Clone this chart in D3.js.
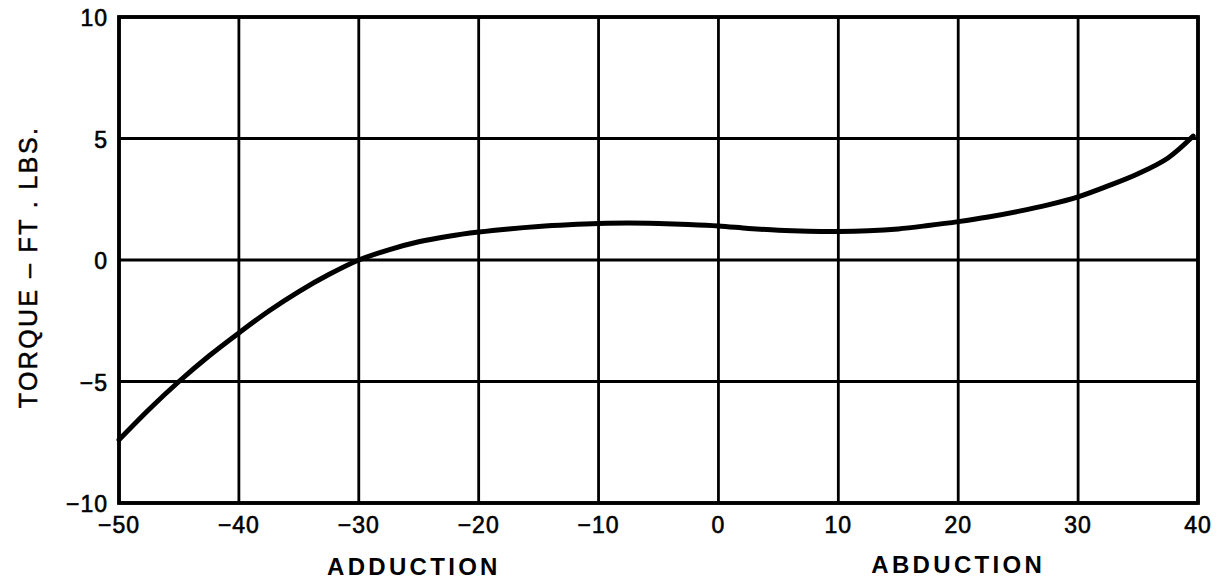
<!DOCTYPE html>
<html><head><meta charset="utf-8">
<script src="https://cdn.jsdelivr.net/npm/d3@7"></script>
<style>body{margin:0;background:#fff}svg{display:block}text{font-family:"Liberation Sans",Arial,sans-serif;fill:#000}</style>
</head><body>
<svg id="c" width="1223" height="584"></svg>
<script>
const xTicks = [-50,-40,-30,-20,-10,0,10,20,30,40];
const yTicks = [-10,-5,0,5,10];
const angle = [-50,-47.5,-45,-42.5,-40,-37.5,-35,-32.5,-30,-27.5,-25,-22.5,-20,-17.5,-15,-12.5,-10,-7.5,-5,-2.5,0,2.5,5,7.5,10,12.5,15,17.5,20,22.5,25,27.5,30,32.5,35,37.5,39.6];
const torque = [-7.4,-6.15,-5.0,-3.95,-3.0,-2.1,-1.3,-0.6,0.0,0.42,0.75,0.98,1.15,1.28,1.38,1.45,1.5,1.52,1.5,1.46,1.4,1.3,1.22,1.18,1.17,1.2,1.28,1.42,1.58,1.77,2.0,2.27,2.6,3.05,3.55,4.2,5.1];
const yTitle = "TORQUE \u2013 FT . LBS.";
const xLabels = [{t:"ADDUCTION",v:-25.4,dy:575},{t:"ABDUCTION",v:20,dy:573}];

const svg = d3.select("#c");
const x = d3.scaleLinear().domain([-50,40]).range([119,1198]);
const y = d3.scaleLinear().domain([-10,10]).range([503,17]);

// grid
svg.append("g").selectAll("line").data(xTicks).join("line")
  .attr("x1",d=>x(d)).attr("x2",d=>x(d)).attr("y1",y(10)).attr("y2",y(-10))
  .attr("stroke","#000").attr("stroke-width",2.8);
svg.append("g").selectAll("line").data(yTicks).join("line")
  .attr("y1",d=>y(d)).attr("y2",d=>y(d)).attr("x1",x(-50)).attr("x2",x(40))
  .attr("stroke","#000").attr("stroke-width",2.8);
svg.append("rect").attr("x",x(-50)).attr("y",y(10)).attr("width",x(40)-x(-50)).attr("height",y(-10)-y(10))
  .attr("fill","none").attr("stroke","#000").attr("stroke-width",3.8);

const fmt = d=> d<0 ? "\u2212"+Math.abs(d) : String(d);
svg.append("g").selectAll("text").data(xTicks).join("text")
  .attr("x",d=>x(d)).attr("y",y(-10)+30).attr("text-anchor","middle")
  .attr("font-size",23).attr("letter-spacing",1).attr("stroke","#000").attr("stroke-width",0.6).text(fmt);
svg.append("g").selectAll("text").data(yTicks).join("text")
  .attr("x",x(-50)-11).attr("y",d=>y(d)+9).attr("text-anchor","end")
  .attr("font-size",23).attr("letter-spacing",1).attr("stroke","#000").attr("stroke-width",0.6).text(fmt);

svg.append("text").attr("transform",`translate(37,267) rotate(-90)`)
  .attr("text-anchor","middle").attr("font-size",25).attr("letter-spacing",2.4)
  .attr("stroke","#000").attr("stroke-width",0.5).text(yTitle);
svg.append("g").selectAll("text").data(xLabels).join("text")
  .attr("x",d=>x(d.v)).attr("y",d=>d.dy).attr("text-anchor","middle")
  .attr("font-size",24).attr("font-weight","bold").attr("letter-spacing",3.3).text(d=>d.t);

const line = d3.line().x((d,i)=>x(angle[i])).y(d=>y(d)).curve(d3.curveCatmullRom);
svg.append("path").datum(torque).attr("d",line).attr("fill","none")
  .attr("stroke","#000").attr("stroke-width",5).attr("stroke-linecap","round");
</script>
</body></html>
